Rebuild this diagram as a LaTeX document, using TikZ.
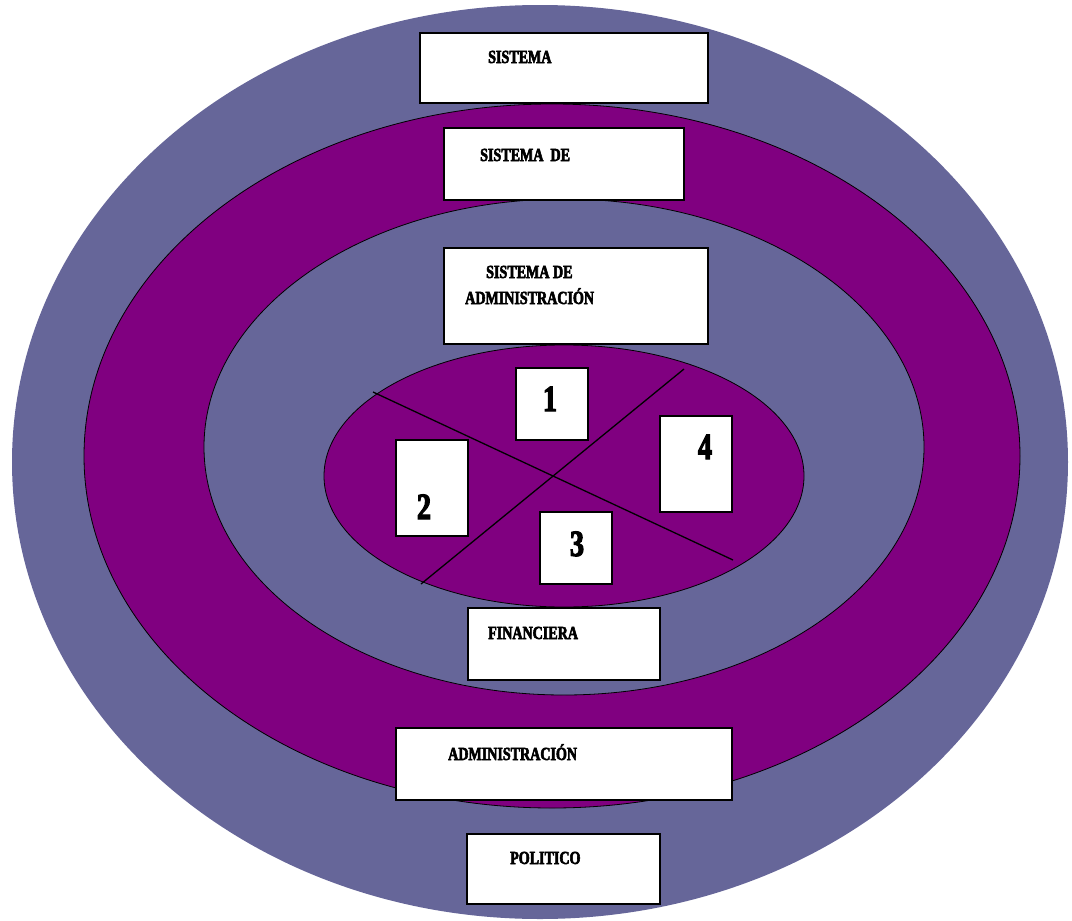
\documentclass[tikz,border=0pt]{standalone}
\usepackage{fontspec}
\newfontfamily\lblfont[FakeStretch=0.76,FakeBold=3]{Liberation Serif Bold}
\definecolor{slate}{HTML}{666699}
\definecolor{plum}{HTML}{800080}
\begin{document}
\begin{tikzpicture}[x=1pt,y=-1pt,
  ring/.style={draw=black,line width=0.8pt},
  wbox/.style={draw=black,line width=1.4pt,fill=white,inner sep=0pt},
  lbl/.style={anchor=base west,inner sep=0pt,font=\lblfont\fontsize{18.5}{20}\selectfont},
  num/.style={anchor=base,inner sep=0pt,font=\lblfont\fontsize{37}{40}\selectfont},
  cut/.style={draw=black,line width=1.3pt}]
\useasboundingbox (0,0) rectangle (1072,921);
\fill[slate] (540,462) ellipse [x radius=528,y radius=457];
\filldraw[ring,fill=plum] (552,456) ellipse [x radius=468,y radius=352];
\filldraw[ring,fill=slate] (564,447) ellipse [x radius=360,y radius=248];
\filldraw[ring,fill=plum] (564,476) ellipse [x radius=240,y radius=131];
% dividing lines
\coordinate (a1) at (373,392); \coordinate (a2) at (733,560);
\coordinate (b1) at (421,584); \coordinate (b2) at (684,369);
\draw[cut] (a1) -- (a2);
\draw[cut] (b1) -- (b2);
% boxes
\node[wbox,minimum width=288,minimum height=70] (bsis) at (564,68) {};
\node[wbox,minimum width=240,minimum height=72] (bsisde) at (564,164) {};
\node[wbox,minimum width=264,minimum height=96] (bsda) at (576,296) {};
\node[wbox,minimum width=192,minimum height=72] (bfin) at (564,644) {};
\node[wbox,minimum width=336,minimum height=72] (badm) at (564,764) {};
\node[wbox,minimum width=193,minimum height=70] (bpol) at (563.5,869) {};
\node[wbox,minimum width=72,minimum height=72] (b1) at (552,404) {};
\node[wbox,minimum width=72,minimum height=96] (b2) at (432,488) {};
\node[wbox,minimum width=72,minimum height=72] (b3) at (576,548) {};
\node[wbox,minimum width=72,minimum height=96] (b4) at (696,464) {};
% labels
\node[lbl] (tsis) at (488,63) {SISTEMA};
\node[lbl] (tsisde) at (480,161) {SISTEMA\ \ DE};
\node[lbl] (tsda1) at (486,278) {SISTEMA DE};
\node[lbl] (tsda2) at (465,304) {ADMINISTRACIÓN};
\node[lbl] (tfin) at (488,639) {FINANCIERA};
\node[lbl] (tadm) at (448,760) {ADMINISTRACIÓN};
\node[lbl] (tpol) at (510,864) {POLITICO};
\node[num] (n1) at (550,411) {1};
\node[num] (n2) at (424,519) {2};
\node[num] (n3) at (577,556) {3};
\node[num] (n4) at (705,459) {4};
\end{tikzpicture}
\end{document}
